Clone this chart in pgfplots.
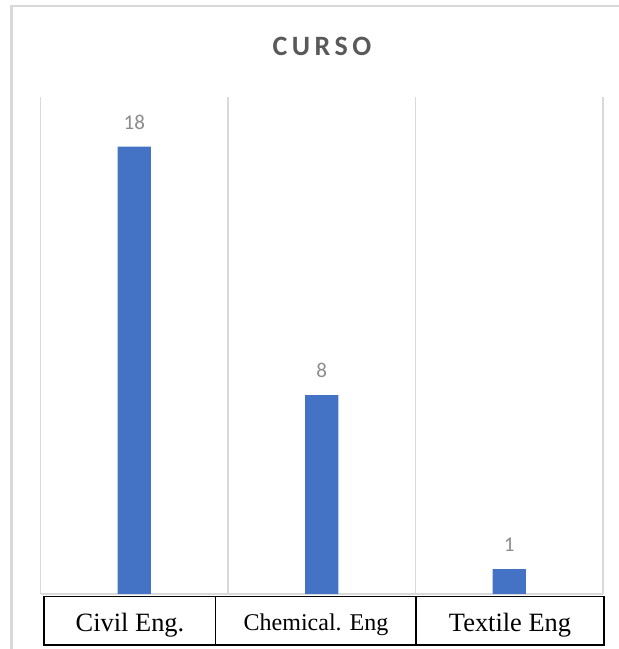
\documentclass[border=0pt]{standalone}
\usepackage{fontspec}
\setmainfont{Liberation Serif}
\newfontfamily\carlito{Carlito}
\usepackage{pgfplots}
\pgfplotsset{compat=1.18}
\definecolor{barblue}{HTML}{4472C4}
\definecolor{gridgray}{HTML}{D9D9D9}
\definecolor{labelgray}{HTML}{8C8C8C}
\definecolor{titlegray}{HTML}{595959}

\begin{document}
\begin{tikzpicture}[x=1pt,y=1pt]
\useasboundingbox (0,0) rectangle (619,649);
% chart area frame
\draw[gridgray, line width=2.5pt] (11.5,-20) -- (11.5,643) -- (640,643);
% chart title
\node[anchor=center, text=titlegray,
      font={\carlito\bfseries\fontsize{28}{33}\selectfont\addfontfeature{LetterSpace=16}}]
      at (322,603) {CURSO};
\begin{axis}[
  at={(40.5pt,55pt)}, anchor=south west,
  scale only axis, width=562.5pt, height=497pt,
  xmin=-0.5, xmax=2.5, ymin=0, ymax=20,
  axis line style={draw=none},
  xtick={-0.5,0.5,1.5,2.5}, xticklabels={},
  ytick={0}, yticklabels={},
  major tick length=0pt,
  xmajorgrids, ymajorgrids,
  grid style={gridgray, line width=1.7pt},
  ybar, bar width=33.3pt,
  clip=false,
  /pgf/number format/assume math mode=true,
  nodes near coords,
  every node near coord/.append style={text=labelgray,
      font=\carlito\fontsize{21}{25}\selectfont,
      anchor=south, inner sep=0pt, yshift=17pt},
]
\addplot[fill=barblue, draw=none] coordinates {(0,18) (1,8) (2,1)};
\end{axis}
% category table under the bars
\draw[black, line width=1.7pt] (44,4) rectangle (604,52.5);
\draw[black, line width=1.7pt] (215.5,4) -- (215.5,52.5) (416,4) -- (416,52.5);
\node[anchor=base, font=\fontsize{26.4}{30}\selectfont] at (130,17) {Civil Eng.};
\node[anchor=base, font=\fontsize{24}{28}\selectfont] at (316,19) {Chemical. Eng};
\node[anchor=base, font=\fontsize{26.4}{30}\selectfont] at (510,17) {Textile Eng};
\end{tikzpicture}
\end{document}
